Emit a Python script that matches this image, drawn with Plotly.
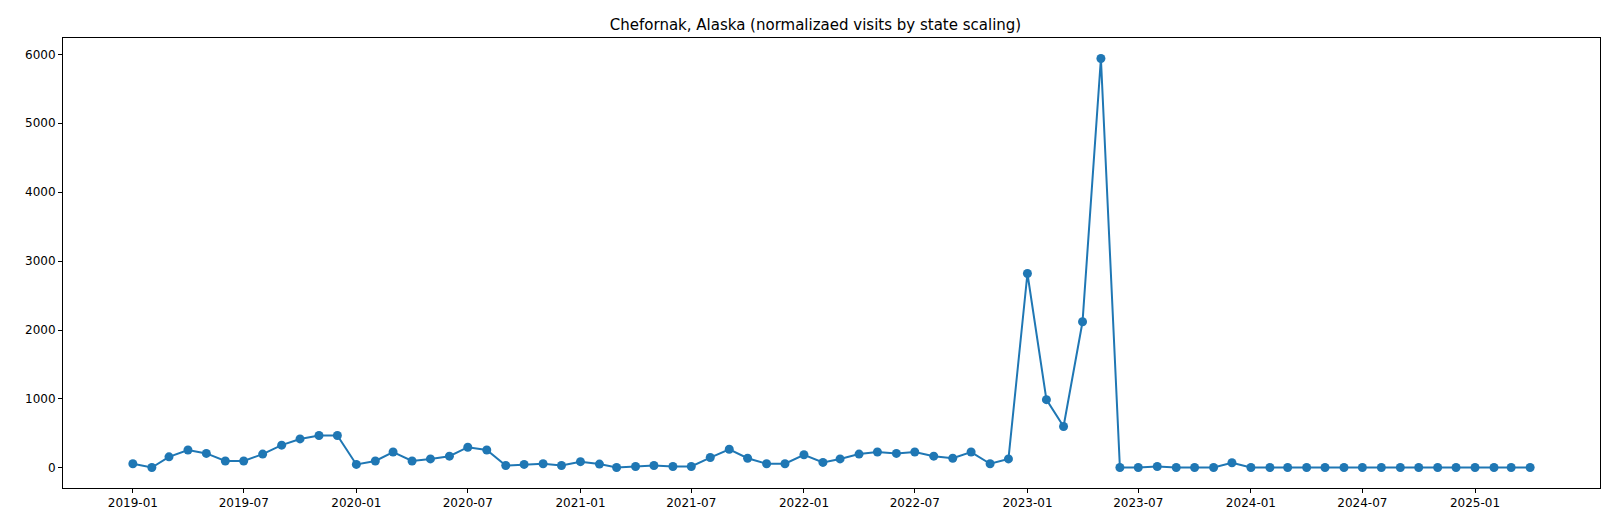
import plotly.graph_objects as go
import pandas as pd

dates = pd.date_range("2019-01-01", "2025-04-01", freq="MS")
values = [60, 5, 160, 260, 210, 100, 100, 200, 330, 420, 470, 470,
          50, 100, 230, 100, 130, 170, 300, 260, 35, 50, 60, 35,
          90, 55, 5, 20, 35, 20, 20, 150, 270, 140, 60, 60,
          190, 80, 130, 200, 230, 210, 230, 170, 140, 230, 60, 130,
          2820, 990, 600, 2120, 5940, 5, 5, 20, 5, 5, 5, 75,
          5, 5, 5, 5, 5, 5, 5, 5, 5, 5, 5, 5,
          5, 5, 5, 5]
tickvals = pd.date_range("2019-01-01", "2025-01-01", freq="6MS")
ticktext = [d.strftime("%Y-%m") for d in tickvals]

span = dates[-1] - dates[0]
xr = [dates[0] - span * 0.05, dates[-1] + span * 0.05]
ymax = max(values); ymin = min(values)
yr = [ymin - (ymax - ymin) * 0.05, ymax + (ymax - ymin) * 0.05]

fig = go.Figure(go.Scatter(x=dates, y=values, mode="lines+markers",
                           line=dict(color="#1f77b4", width=2),
                           marker=dict(color="#1f77b4", size=9)))
axis = dict(showgrid=False, zeroline=False, showline=True, mirror=True,
            linecolor="black", linewidth=1, ticks="outside", ticklen=4,
            tickcolor="black", tickfont=dict(size=12, color="black"))
fig.update_layout(
    width=1615, height=526, plot_bgcolor="white", paper_bgcolor="white",
    margin=dict(l=55, r=23, t=30, b=46),
    title=dict(text="Chefornak, Alaska (normalizaed visits by state scaling)",
               x=0.5, xanchor="center", y=0.968, yanchor="middle",
               font=dict(size=15, color="black")),
    font=dict(family="DejaVu Sans"),
    showlegend=False,
    xaxis=dict(axis, range=xr, tickvals=tickvals, ticktext=ticktext),
    yaxis=dict(axis, range=yr, tickvals=[0, 1000, 2000, 3000, 4000, 5000, 6000]),
)
fig.write_html("out.html")
